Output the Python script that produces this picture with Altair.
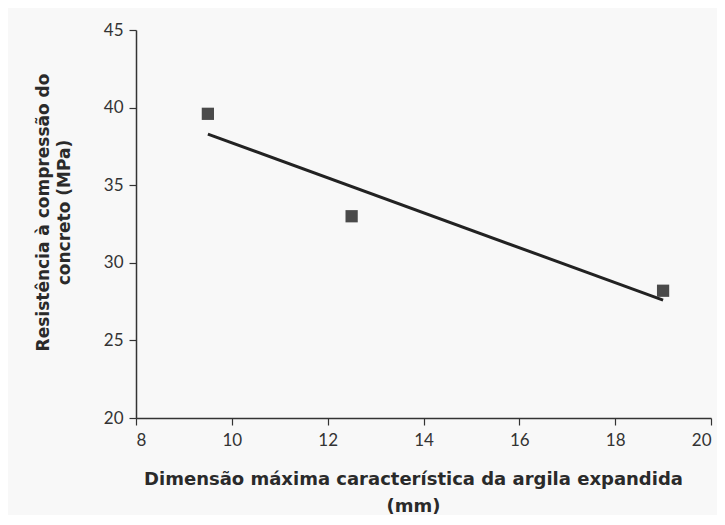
import altair as alt
import pandas as pd

dim_mm = [9.5, 12.5, 19.0]
resist_mpa = [39.6, 33.0, 28.2]

df = pd.DataFrame({"x": dim_mm, "y": resist_mpa})

FONT = "Lato"
TFONT = "DejaVu Sans"

xs = alt.Scale(domain=[8, 20], nice=False, zero=False)
ys = alt.Scale(domain=[20, 45], nice=False, zero=False)

x_axis = alt.Axis(
    values=[8, 10, 12, 14, 16, 18, 20], grid=False, tickSize=7, tickColor="#333",
    domainColor="#333", domainWidth=1.5, tickWidth=1.2,
    labelFont=FONT, labelFontSize=17, labelColor="#333", labelPadding=7,
    title=["Dimensão máxima característica da argila expandida", "(mm)"],
    titleFont=TFONT, titleFontSize=18, titleFontWeight="bold", titleColor="#2a2a2a",
    titlePadding=22, titleLineHeight=27, titleX=277, titleAlign="center",
)
y_axis = alt.Axis(
    values=[20, 25, 30, 35, 40, 45], grid=False, tickSize=7, tickColor="#333",
    domainColor="#333", domainWidth=1.5, tickWidth=1.2,
    labelFont=FONT, labelFontSize=17, labelColor="#333", labelPadding=6,
    title=["Resistência à compressão do", "concreto (MPa)"],
    titleFont=TFONT, titleFontSize=17, titleFontWeight="bold", titleColor="#2a2a2a",
    titlePadding=30, titleLineHeight=21, titleY=182, titleAlign="center",
)

base = alt.Chart(df)

points = base.mark_point(shape="square", filled=True, size=150, color="#4a4a4a", opacity=1).encode(
    x=alt.X("x:Q", scale=xs, axis=x_axis),
    y=alt.Y("y:Q", scale=ys, axis=y_axis),
)

trend = base.transform_regression("x", "y").mark_line(color="#222", strokeWidth=3).encode(
    x=alt.X("x:Q", scale=xs),
    y=alt.Y("y:Q", scale=ys),
)

chart = alt.layer(trend, points).properties(
    width=575, height=388,
    autosize=alt.AutoSizeParams(type="none"),
    padding={"left": 128, "top": 22, "right": 6, "bottom": 97},
    background="#f8f8f8",
).configure_view(stroke=None)

chart.save("out.html", embed_options={"renderer": "svg", "actions": False})
